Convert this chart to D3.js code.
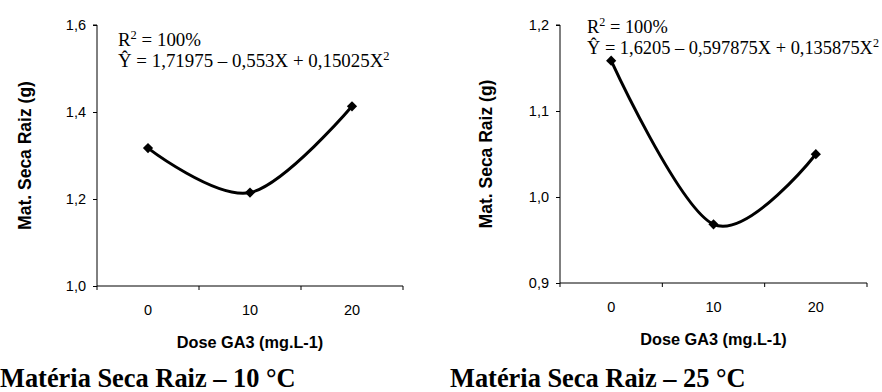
<!DOCTYPE html>
<html>
<head>
<meta charset="utf-8">
<script src="https://cdn.jsdelivr.net/npm/d3@7"></script>
<style>
  html, body { margin: 0; padding: 0; background: #fff; }
  svg { display: block; }
</style>
</head>
<body>
<svg id="chart" width="882" height="392"></svg>
<script>
// GA3 doses (categories on the x axis)
const doses = ["0", "10", "20"];

// Root dry matter (g) at each dose, from the fitted quadratic models
const raiz10 = [1.317, 1.21475, 1.413];
const raiz25 = [1.1585, 0.96825, 1.04975];

// Y-axis tick values for each panel
const ticks10 = [1.0, 1.2, 1.4, 1.6];
const ticks25 = [0.9, 1.0, 1.1, 1.2];

// Regression annotations
const eq10 = ["Ŷ = 1,71975 – 0,553X + 0,15025X", "2"];
const eq25 = ["Ŷ = 1,6205 – 0,597875X + 0,135875X", "2"];
const r2Text = "R";

const yTitle = "Mat. Seca Raiz (g)";
const xTitle = "Dose GA3 (mg.L-1)";
const titles = ["Matéria Seca Raiz – 10 °C", "Matéria Seca Raiz – 25 °C"];

const svg = d3.select("#chart");
const comma = d => d3.format(".1f")(d).replace(".", ",");

function panel(opts) {
  const { x0, x1, yTop, yBot, values, ticks, eq, eqX, eqY, eqSize, yTitleX, title, titleX } = opts;
  const g = svg.append("g");

  const x = d3.scaleBand().domain(doses).range([x0, x1]).padding(0);
  const y = d3.scaleLinear().domain([ticks[0], ticks[ticks.length - 1]]).range([yBot, yTop]);

  // y axis
  const yAxis = g.append("g")
    .attr("transform", `translate(${x0},0)`)
    .call(d3.axisLeft(y).tickValues(ticks).tickFormat(comma).tickSize(4).tickPadding(7));
  yAxis.select(".domain").attr("stroke", "#000").attr("stroke-width", 1).attr("d", `M-4,${yTop}H0V${yBot}`);
  yAxis.selectAll(".tick line").attr("stroke", "#000");
  yAxis.selectAll("text").attr("font-family", "Liberation Sans, Arial, sans-serif")
    .attr("font-size", 14.5).attr("fill", "#000");

  // x axis: ticks at category boundaries, labels centred in each band
  const xAxis = g.append("g").attr("transform", `translate(0,${yBot})`);
  xAxis.append("line").attr("x1", x0).attr("x2", x1).attr("stroke", "#000");
  const bounds = doses.map(d => x(d)).concat([x1]);
  xAxis.selectAll("line.tk").data(bounds).join("line").attr("class", "tk")
    .attr("x1", d => d).attr("x2", d => d).attr("y1", 0).attr("y2", 4).attr("stroke", "#000");
  xAxis.selectAll("text").data(doses).join("text")
    .attr("x", d => x(d) + x.bandwidth() / 2).attr("y", 29)
    .attr("text-anchor", "middle")
    .attr("font-family", "Liberation Sans, Arial, sans-serif").attr("font-size", 14.5)
    .text(d => d);

  // fitted curve
  const line = d3.line()
    .x((d, i) => x(doses[i]) + x.bandwidth() / 2)
    .y(d => y(d))
    .curve(d3.curveCardinal.tension(0));
  g.append("path").datum(values).attr("d", line)
    .attr("fill", "none").attr("stroke", "#000").attr("stroke-width", 3).attr("stroke-linejoin", "round");

  // diamond markers
  g.selectAll("path.pt").data(values).join("path").attr("class", "pt")
    .attr("d", d3.symbol(d3.symbolSquare, 52))
    .attr("transform", (d, i) => `translate(${x(doses[i]) + x.bandwidth() / 2},${y(d)}) rotate(45)`)
    .attr("fill", "#000");

  // equation
  const supSize = eqSize * 0.66;
  const eqG = g.append("text").attr("font-family", "Liberation Serif, Times New Roman, serif")
    .attr("font-size", eqSize).attr("fill", "#000");
  const r = eqG.append("tspan").attr("x", eqX).attr("y", eqY);
  r.append("tspan").text(r2Text);
  r.append("tspan").attr("dy", -7).attr("font-size", supSize).text("2");
  r.append("tspan").attr("dy", 7).text(" = 100%");
  const e = g.append("text").attr("font-family", "Liberation Serif, Times New Roman, serif")
    .attr("font-size", eqSize).attr("fill", "#000").attr("x", eqX).attr("y", eqY + 21);
  e.append("tspan").text(eq[0]);
  e.append("tspan").attr("dy", -7).attr("font-size", supSize).text(eq[1]);

  // axis titles
  g.append("text")
    .attr("transform", `translate(${yTitleX},${(yTop + yBot) / 2}) rotate(-90)`)
    .attr("text-anchor", "middle")
    .attr("font-family", "Liberation Sans, Arial, sans-serif").attr("font-weight", "bold").attr("font-size", 17.5)
    .text(yTitle);
  g.append("text")
    .attr("x", (x0 + x1) / 2).attr("y", yBot + 62)
    .attr("text-anchor", "middle")
    .attr("font-family", "Liberation Sans, Arial, sans-serif").attr("font-weight", "bold").attr("font-size", 16.3)
    .text(xTitle);

  // panel caption
  g.append("text")
    .attr("x", titleX).attr("y", 387)
    .attr("font-family", "Liberation Serif, Times New Roman, serif").attr("font-weight", "bold").attr("font-size", 26.4)
    .text(title);
}

panel({ x0: 97, x1: 403, yTop: 25, yBot: 286, values: raiz10, ticks: ticks10, eq: eq10, eqSize: 18.9,
        eqX: 118, eqY: 46, yTitleX: 31, title: titles[0], titleX: 0 });
panel({ x0: 560, x1: 867, yTop: 25, yBot: 283, values: raiz25, ticks: ticks25, eq: eq25, eqSize: 18.4,
        eqX: 587, eqY: 33, yTitleX: 492, title: titles[1], titleX: 450 });
</script>
</body>
</html>
